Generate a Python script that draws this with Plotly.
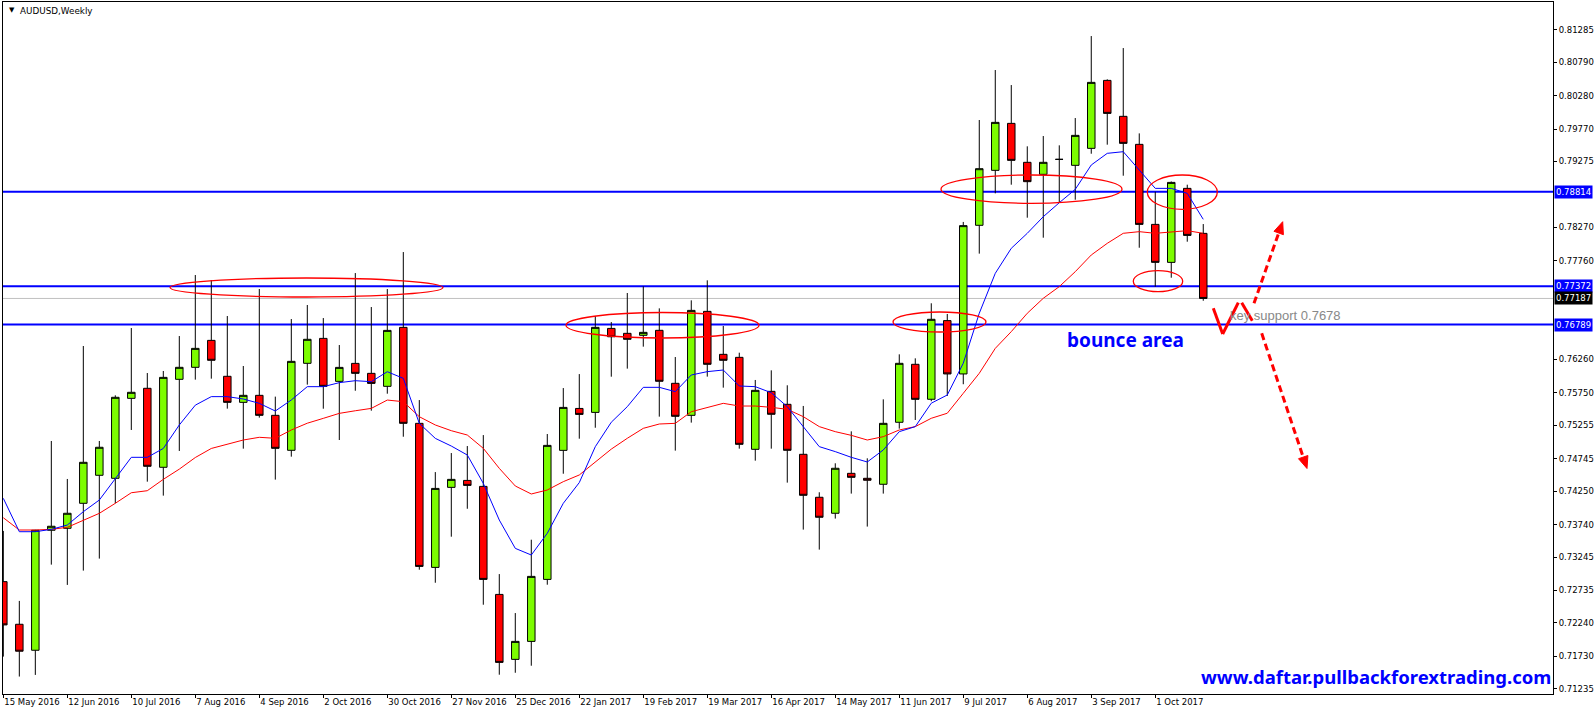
import pandas as pd
import plotly.graph_objects as go

# ---------------- data (AUDUSD weekly) ----------------
start = pd.Timestamp("2016-05-15")
weeks = pd.date_range(start, periods=76, freq="7D")

opens = [0.72870, 0.72220, 0.71824, 0.73653, 0.73683, 0.74064, 0.74491, 0.74445, 0.75664, 0.75817,
         0.74613, 0.75954, 0.76137, 0.76548, 0.76000, 0.75603, 0.75710, 0.75405, 0.74872, 0.76198,
         0.76578, 0.75923, 0.76197, 0.76045, 0.75847, 0.76746, 0.75283, 0.73087, 0.74307, 0.74413,
         0.74322, 0.72675, 0.71685, 0.71959, 0.72904, 0.74871, 0.75510, 0.75450, 0.76730, 0.76655,
         0.76625, 0.76701, 0.75893, 0.75405, 0.76990, 0.76335, 0.76289, 0.74887, 0.75771, 0.75573,
         0.74811, 0.74156, 0.73912, 0.74521, 0.74445, 0.74354, 0.75299, 0.76183, 0.75650, 0.76849,
         0.76036, 0.78302, 0.79140, 0.79856, 0.79262, 0.79079, 0.79307, 0.79216, 0.79475, 0.80511,
         0.79963, 0.79536, 0.78316, 0.77737, 0.78865, 0.78179]
highs = [0.73643, 0.72576, 0.73660, 0.75014, 0.74435, 0.76462, 0.75014, 0.75710, 0.76736, 0.76050,
         0.76081, 0.76614, 0.77544, 0.77468, 0.76919, 0.76157, 0.77331, 0.75690, 0.76873, 0.77087,
         0.76888, 0.76477, 0.77574, 0.77056, 0.77330, 0.77894, 0.75638, 0.74540, 0.74830, 0.74937,
         0.75104, 0.72985, 0.72391, 0.73509, 0.75120, 0.75821, 0.76034, 0.76918, 0.76827, 0.77270,
         0.77371, 0.77036, 0.76294, 0.77158, 0.77463, 0.76767, 0.76360, 0.75944, 0.76091, 0.75863,
         0.75548, 0.74232, 0.74674, 0.75161, 0.74750, 0.75649, 0.76335, 0.76274, 0.77113, 0.76950,
         0.78353, 0.79907, 0.80669, 0.80440, 0.79506, 0.79663, 0.79521, 0.79937, 0.81187, 0.80527,
         0.81004, 0.79703, 0.78814, 0.78970, 0.78921, 0.78321]
lows = [0.71727, 0.71423, 0.71448, 0.73129, 0.72820, 0.73038, 0.73221, 0.74064, 0.75182, 0.74394,
        0.74181, 0.74862, 0.75949, 0.75964, 0.75507, 0.74897, 0.75370, 0.74425, 0.74775, 0.75873,
        0.75506, 0.75029, 0.75780, 0.75476, 0.75735, 0.75079, 0.73052, 0.72853, 0.73555, 0.73981,
        0.72518, 0.71451, 0.71481, 0.71588, 0.72823, 0.74515, 0.75049, 0.75216, 0.75994, 0.76117,
        0.76452, 0.75385, 0.74867, 0.75294, 0.75995, 0.75827, 0.74897, 0.74714, 0.74897, 0.74379,
        0.73663, 0.73358, 0.73831, 0.74212, 0.73709, 0.74212, 0.75202, 0.75334, 0.75620, 0.75701,
        0.75879, 0.77870, 0.78789, 0.78921, 0.78418, 0.78113, 0.78646, 0.78692, 0.79393, 0.79531,
        0.79058, 0.77960, 0.77366, 0.77503, 0.78052, 0.77152]
closes = [0.72210, 0.71809, 0.73653, 0.73714, 0.73912, 0.74689, 0.74918, 0.75680, 0.75756, 0.74628,
          0.75984, 0.76137, 0.76426, 0.76244, 0.75603, 0.75710, 0.75405, 0.74902, 0.76228, 0.76564,
          0.75847, 0.76136, 0.76045, 0.75892, 0.76700, 0.75283, 0.73102, 0.74291, 0.74429, 0.74337,
          0.72904, 0.71639, 0.71959, 0.72950, 0.74947, 0.75526, 0.75419, 0.76746, 0.76603, 0.76564,
          0.76670, 0.75924, 0.75390, 0.77005, 0.76183, 0.76244, 0.74963, 0.75786, 0.75421, 0.74872,
          0.74186, 0.73851, 0.74598, 0.74460, 0.74415, 0.75283, 0.76198, 0.75649, 0.76869, 0.76036,
          0.78297, 0.79165, 0.79871, 0.79292, 0.78967, 0.79262, 0.79307, 0.79673, 0.80481, 0.80008,
          0.79551, 0.78316, 0.77737, 0.78956, 0.78148, 0.77187]

ma_fast = [0.74140, 0.73631, 0.73631, 0.73667, 0.73733, 0.73936, 0.74114, 0.74445, 0.74765, 0.74765,
           0.74900, 0.75258, 0.75560, 0.75690, 0.75690, 0.75654, 0.75588, 0.75471, 0.75639, 0.75842,
           0.75842, 0.75903, 0.75933, 0.75918, 0.76070, 0.75969, 0.75283, 0.75054, 0.74937, 0.74800,
           0.74368, 0.73809, 0.73377, 0.73276, 0.73607, 0.74064, 0.74380, 0.74927, 0.75300, 0.75537,
           0.75832, 0.75832, 0.75766, 0.76020, 0.76071, 0.76096, 0.75852, 0.75842, 0.75750, 0.75537,
           0.75233, 0.74928, 0.74852, 0.74765, 0.74694, 0.74877, 0.75156, 0.75233, 0.75590, 0.75715,
           0.76200, 0.76961, 0.77570, 0.77951, 0.78180, 0.78433, 0.78646, 0.78850, 0.79221, 0.79399,
           0.79424, 0.79145, 0.78865, 0.78865, 0.78789, 0.78393]
ma_slow = [0.73844, 0.73657, 0.73657, 0.73667, 0.73698, 0.73809, 0.73911, 0.74064, 0.74225, 0.74256,
           0.74429, 0.74585, 0.74762, 0.74900, 0.74968, 0.75029, 0.75070, 0.75055, 0.75182, 0.75285,
           0.75359, 0.75435, 0.75475, 0.75511, 0.75638, 0.75613, 0.75384, 0.75258, 0.75171, 0.75105,
           0.74902, 0.74597, 0.74328, 0.74206, 0.74267, 0.74394, 0.74496, 0.74699, 0.74890, 0.75055,
           0.75207, 0.75273, 0.75283, 0.75460, 0.75527, 0.75588, 0.75547, 0.75547, 0.75527, 0.75497,
           0.75385, 0.75233, 0.75156, 0.75100, 0.75029, 0.75080, 0.75182, 0.75233, 0.75360, 0.75437,
           0.75741, 0.76046, 0.76426, 0.76681, 0.76961, 0.77189, 0.77367, 0.77595, 0.77849, 0.78027,
           0.78180, 0.78205, 0.78180, 0.78205, 0.78220, 0.78180]

level_lines = [0.78814, 0.77372, 0.76789]
bid_price = 0.77187
ytick_vals = [0.81285, 0.80790, 0.80280, 0.79770, 0.79275, 0.78270, 0.77760, 0.76260, 0.75750,
              0.75255, 0.74745, 0.74250, 0.73740, 0.73245, 0.72735, 0.72240, 0.71730, 0.71235]
xtick_idx = list(range(0, 76, 4))

# ---------------- layout helpers ----------------
W_FIG, H_FIG = 1596, 714
ML, MR, MT, MB = 3, 43, 2, 20
PW, PH = W_FIG - ML - MR, H_FIG - MT - MB


def bx(i):
    return start + pd.Timedelta(days=7 * i)


def px(x):
    return (x - ML) / PW


def py(y):
    return 1 - (y - MT) / PH


RED = "#FF0000"
BLUE = "#0000FF"
AXFONT = dict(family="DejaVu Sans", size=8.5, color="black")

fig = go.Figure()
fig.add_trace(go.Scatter(x=weeks, y=ma_slow, mode="lines", line=dict(color=RED, width=1),
                         showlegend=False, hoverinfo="skip"))
fig.add_trace(go.Scatter(x=weeks, y=ma_fast, mode="lines", line=dict(color=BLUE, width=1),
                         showlegend=False, hoverinfo="skip"))
fig.add_trace(go.Candlestick(
    x=weeks, open=opens, high=highs, low=lows, close=closes,
    increasing=dict(fillcolor="#7CFC00", line=dict(color="black", width=1)),
    decreasing=dict(fillcolor=RED, line=dict(color="black", width=1)),
    whiskerwidth=0, showlegend=False, hoverinfo="skip"))

shapes = []
for lv in level_lines:
    shapes.append(dict(type="line", xref="paper", x0=0, x1=1, yref="y", y0=lv, y1=lv,
                       line=dict(color=BLUE, width=2), layer="below"))
shapes.append(dict(type="line", xref="paper", x0=0, x1=1, yref="y", y0=bid_price, y1=bid_price,
                   line=dict(color="#C0C0C0", width=1), layer="below"))

ellipses = [(170, 443, 278, 297), (566, 759, 312.5, 338), (893, 986, 312, 332),
            (941, 1122, 175, 203.3), (1147.3, 1217.3, 175, 209.3), (1133.3, 1182.7, 270.7, 291.7)]
for x0, x1, y0, y1 in ellipses:
    shapes.append(dict(type="circle", xref="paper", yref="paper", x0=px(x0), x1=px(x1),
                       y0=py(y1), y1=py(y0), line=dict(color=RED, width=1.3), layer="above"))

# red "V\" zigzag
for (a, b) in [((1213.3, 308.3), (1222.7, 334)), ((1222.7, 334), (1238.3, 302.7)),
               ((1241.7, 302.7), (1252.3, 320.7))]:
    shapes.append(dict(type="line", xref="paper", yref="paper", x0=px(a[0]), y0=py(a[1]),
                       x1=px(b[0]), y1=py(b[1]), line=dict(color=RED, width=3)))

# dashed arrows
arrows = [((1254, 303.3), (1278.7, 233), (1282.7, 221.7), (1283.4, 234.7), (1274, 231.3)),
          ((1261.7, 333.3), (1303.2, 457.1), (1307, 468.5), (1307.9, 455.5), (1298.5, 458.7))]
for s, e, tip, b1, b2 in arrows:
    shapes.append(dict(type="line", xref="paper", yref="paper", x0=px(s[0]), y0=py(s[1]),
                       x1=px(e[0]), y1=py(e[1]), line=dict(color=RED, width=3, dash="7px,4px")))
    path = "M {} {} L {} {} L {} {} Z".format(px(tip[0]), py(tip[1]), px(b1[0]), py(b1[1]),
                                              px(b2[0]), py(b2[1]))
    shapes.append(dict(type="path", xref="paper", yref="paper", path=path,
                       fillcolor=RED, line=dict(color=RED, width=1)))

annotations = []
# price labels on the right axis
for lv in level_lines:
    annotations.append(dict(xref="paper", x=1, xanchor="left", xshift=1, yref="y", y=lv,
                            yanchor="middle", text=f"{lv:.5f}", showarrow=False,
                            bgcolor=BLUE, borderpad=1,
                            font=dict(family="DejaVu Sans", size=8.5, color="white")))
annotations.append(dict(xref="paper", x=1, xanchor="left", xshift=1, yref="y", y=bid_price,
                        yanchor="middle", text=f"{bid_price:.5f}", showarrow=False,
                        bgcolor="black", borderpad=1,
                        font=dict(family="DejaVu Sans", size=8.5, color="white")))
# title
annotations.append(dict(xref="paper", yref="paper", x=px(7), y=py(10.5), xanchor="left",
                        yanchor="middle", text="▼", showarrow=False,
                        font=dict(family="DejaVu Sans", size=7, color="black")))
annotations.append(dict(xref="paper", yref="paper", x=px(18), y=py(11), xanchor="left",
                        yanchor="middle", text="AUDUSD,Weekly", showarrow=False,
                        font=dict(family="DejaVu Sans", size=8.8, color="black")))
# chart notes
annotations.append(dict(xref="paper", yref="paper", x=px(1125.5), y=py(340), xanchor="center",
                        yanchor="middle", text="<b>bounce area</b>", showarrow=False,
                        font=dict(family="Noto Sans", size=19, color=BLUE)))
annotations.append(dict(xref="paper", yref="paper", x=px(1227.7), y=py(315.3), xanchor="left",
                        yanchor="middle", text="key support 0.7678", showarrow=False,
                        font=dict(family="Liberation Sans", size=13, color="#888888")))
annotations.append(dict(xref="paper", yref="paper", x=px(1552.7), y=py(676), xanchor="right",
                        yanchor="middle", text="<b>www.daftar.pullbackforextrading.com</b>",
                        showarrow=False, font=dict(family="Noto Sans", size=18.5, color=BLUE)))

fig.update_layout(
    width=W_FIG, height=H_FIG,
    margin=dict(l=ML, r=MR, t=MT, b=MB, pad=0),
    paper_bgcolor="white", plot_bgcolor="white",
    boxgap=0.33,
    showlegend=False,
    shapes=shapes, annotations=annotations,
    xaxis=dict(range=[bx(-0.02), bx(96.86)], rangeslider=dict(visible=False),
               showgrid=False, zeroline=False, showline=True, mirror=True,
               linecolor="black", linewidth=1, ticks="outside", ticklen=3, tickcolor="black",
               tickvals=[weeks[i] for i in xtick_idx], tickformat="%-d %b %Y",
               ticklabelposition="outside right", tickfont=AXFONT),
    yaxis=dict(side="right", range=[0.71157, 0.81706], showgrid=False, zeroline=False,
               showline=True, mirror=True, linecolor="black", linewidth=1,
               ticks="outside", ticklen=3, tickcolor="black",
               tickvals=ytick_vals, ticktext=[f"{v:.5f}" for v in ytick_vals],
               tickfont=AXFONT),
)

fig.write_html("out.html", config={"displayModeBar": False},
               post_script="document.body.style.margin='0px';document.body.style.overflow='hidden';")
